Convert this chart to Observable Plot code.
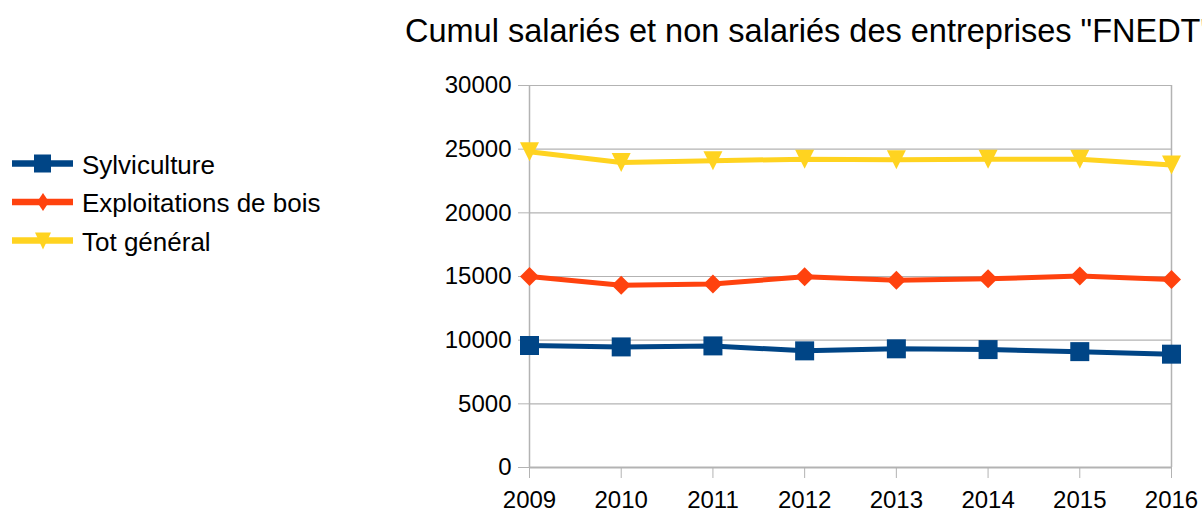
<!DOCTYPE html>
<html>
<head>
<meta charset="utf-8">
<script src="https://cdn.jsdelivr.net/npm/d3@7"></script>
<script src="https://cdn.jsdelivr.net/npm/@observablehq/plot@0.6"></script>
<style>
  html, body { margin: 0; padding: 0; background: #fff; }
  #wrap { position: relative; width: 1202px; height: 511px; overflow: hidden; font-family: "Liberation Sans", Arial, sans-serif; }
  #title { position: absolute; left: 405px; top: 15px; font-size: 32.5px; line-height: 32px; white-space: nowrap; color: #000; }
  #legend { position: absolute; left: 0; top: 0; }
  #chart { position: absolute; left: 0; top: 0; }
</style>
</head>
<body>
<div id="wrap">
  <div id="chart"></div>
  <div id="title">Cumul salariés et non salariés des entreprises "FNEDT"</div>
  <div id="legend"></div>
</div>
<script>
const years = [2009, 2010, 2011, 2012, 2013, 2014, 2015, 2016];
const seriesNames = ["Sylviculture", "Exploitations de bois", "Tot général"];
const sylviculture = [9580, 9470, 9550, 9160, 9320, 9260, 9100, 8900];
const exploitations = [15000, 14320, 14420, 14980, 14710, 14820, 15030, 14770];
const totGeneral = [24790, 23950, 24100, 24210, 24160, 24210, 24210, 23750];
const yTicks = [0, 5000, 10000, 15000, 20000, 25000, 30000];
const colors = ["#004586", "#ff420e", "#ffd320"];

const seriesValues = [sylviculture, exploitations, totGeneral];
const rows = seriesNames.flatMap((name, i) =>
  years.map((year, j) => ({series: name, year, value: seriesValues[i][j]})));

// custom symbols: sqrt(size) is the full width
const squareSym = {draw(ctx, size) { const w = Math.sqrt(size) / 2; ctx.rect(-w, -w, 2 * w, 2 * w); }};
const diamondSym = {draw(ctx, size) { const h = Math.sqrt(size) / 2; ctx.moveTo(0, -h); ctx.lineTo(h, 0); ctx.lineTo(0, h); ctx.lineTo(-h, 0); ctx.closePath(); }};
const triDownSym = {draw(ctx, size) { const h = Math.sqrt(size) / 2; ctx.moveTo(-h, -h); ctx.lineTo(h, -h); ctx.lineTo(0, h); ctx.closePath(); }};
const symbols = [squareSym, diamondSym, triDownSym];
const symSizes = [19, 19, 19];

const grid = "#b3b3b3";

const chart = Plot.plot({
  width: 1202,
  height: 511,
  marginTop: 85,
  marginBottom: 44,
  marginLeft: 529,
  marginRight: 31,
  style: {fontFamily: "Liberation Sans, Arial, sans-serif", fontSize: "24px", color: "#000", background: "transparent", overflow: "visible"},
  x: {type: "linear", domain: [years[0], years[years.length - 1]], label: null},
  y: {domain: [yTicks[0], yTicks[yTicks.length - 1]], label: null},
  color: {domain: seriesNames, range: colors},
  marks: [
    Plot.gridY(yTicks, {stroke: grid, strokeOpacity: 1, strokeWidth: 1.2}),
    Plot.ruleX([years[0], years[years.length - 1]], {stroke: grid, strokeWidth: 1.5}),
    Plot.ruleY([yTicks[0]], {stroke: grid, strokeWidth: 2}),
    Plot.axisY(yTicks, {tickSize: 11, tickPadding: 7, stroke: grid, strokeOpacity: 1, fontSize: 24, label: null, tickFormat: d => String(d)}),
    Plot.axisX(years, {tickSize: 11, tickPadding: 12, stroke: grid, strokeOpacity: 1, fontSize: 24, label: null, tickFormat: d => String(d)}),
    ...seriesNames.map((name, i) =>
      Plot.line(rows.filter(d => d.series === name), {x: "year", y: "value", stroke: colors[i], strokeWidth: 5, strokeLinejoin: "round"})),
    ...seriesNames.map((name, i) =>
      Plot.dot(rows.filter(d => d.series === name), {x: "year", y: "value", fill: colors[i], stroke: "none", symbol: symbols[i], r: symSizes[i] / Math.sqrt(Math.PI)}))
  ]
});
document.getElementById("chart").appendChild(chart);

// legend
const legendRows = [163.5, 202, 240.5];
const lsvg = d3.select("#legend").append("svg").attr("width", 400).attr("height", 300)
  .style("font-family", "Liberation Sans, Arial, sans-serif");
seriesNames.forEach((name, i) => {
  const cy = legendRows[i];
  const g = lsvg.append("g");
  g.append("line").attr("x1", 12).attr("x2", 73).attr("y1", cy).attr("y2", cy)
    .attr("stroke", colors[i]).attr("stroke-width", 6.5);
  if (i === 0) {
    g.append("rect").attr("x", 34).attr("y", cy - 9).attr("width", 17).attr("height", 18).attr("fill", colors[i]);
  } else if (i === 1) {
    g.append("path").attr("d", `M43,${cy - 9}L49,${cy}L43,${cy + 9}L37,${cy}Z`).attr("fill", colors[i]);
  } else {
    g.append("path").attr("d", `M35,${cy - 8}L51,${cy - 8}L43,${cy + 9}Z`).attr("fill", colors[i]);
  }
  g.append("text").attr("x", 82).attr("y", cy + 10).attr("font-size", 26).attr("fill", "#000").text(name);
});
</script>
</body>
</html>
